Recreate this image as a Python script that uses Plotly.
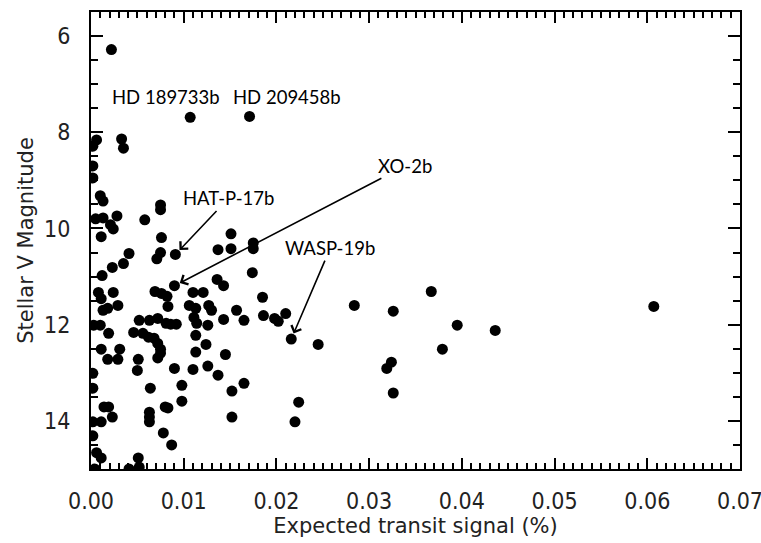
import plotly.graph_objects as go

# Expected transit signal (%) and stellar V magnitude
signal = [
    0.0022, 0.0107, 0.0171, 0.0033, 0.0035, 0.0006, 0.0002, 0.0002, 0.0002, 0.0010,
    0.0013, 0.0075, 0.0075, 0.0005, 0.0013, 0.0028, 0.0058, 0.0021, 0.0024, 0.0011,
    0.0076, 0.0041, 0.0075, 0.0071, 0.0091, 0.0035, 0.0023, 0.0012, 0.0151, 0.0137,
    0.0151, 0.0175, 0.0175, 0.0174, 0.0136, 0.0143, 0.0008, 0.0011, 0.0024, 0.0069,
    0.0076, 0.0082, 0.0090, 0.0110, 0.0121, 0.0185, 0.0083, 0.0013, 0.0018, 0.0029,
    0.0106, 0.0113, 0.0127, 0.0130, 0.0157, 0.0186, 0.0198, 0.0202, 0.0210, 0.0003,
    0.0010, 0.0019, 0.0052, 0.0063, 0.0072, 0.0081, 0.0086, 0.0092, 0.0046, 0.0056,
    0.0062, 0.0068, 0.0072, 0.0075, 0.0075, 0.0072, 0.0111, 0.0114, 0.0126, 0.0143,
    0.0165, 0.0113, 0.0124, 0.0113, 0.0145, 0.0011, 0.0031, 0.0018, 0.0029, 0.0051,
    0.0050, 0.0090, 0.0110, 0.0126, 0.0137, 0.0165, 0.0152, 0.0098, 0.0098, 0.0002,
    0.0002, 0.0064, 0.0014, 0.0019, 0.0023, 0.0002, 0.0011, 0.0063, 0.0063, 0.0063,
    0.0080, 0.0083, 0.0152, 0.0002, 0.0078, 0.0087, 0.0006, 0.0011, 0.0051, 0.0041,
    0.0052, 0.0004, 0.0216, 0.0245, 0.0284, 0.0326, 0.0367, 0.0395, 0.0379, 0.0324,
    0.0319, 0.0326, 0.0224, 0.0220, 0.0436, 0.0607,
]
vmag = [
    6.28, 7.69, 7.67, 8.14, 8.33, 8.16, 8.29, 8.70, 8.95, 9.32,
    9.43, 9.51, 9.61, 9.80, 9.78, 9.74, 9.82, 9.92, 10.01, 10.17,
    10.19, 10.52, 10.50, 10.63, 10.54, 10.73, 10.81, 10.98, 10.11, 10.44,
    10.42, 10.30, 10.42, 10.92, 11.06, 11.19, 11.33, 11.46, 11.33, 11.31,
    11.35, 11.41, 11.19, 11.33, 11.33, 11.43, 11.62, 11.70, 11.66, 11.60,
    11.60, 11.66, 11.60, 11.70, 11.70, 11.81, 11.87, 11.93, 11.77, 12.01,
    12.01, 12.18, 11.91, 11.91, 11.87, 11.97, 11.99, 11.99, 12.16, 12.18,
    12.26, 12.28, 12.39, 12.51, 12.59, 12.69, 11.85, 11.97, 12.01, 11.89,
    11.91, 12.22, 12.41, 12.57, 12.62, 12.51, 12.51, 12.72, 12.72, 12.72,
    12.95, 12.91, 12.93, 12.86, 13.05, 13.22, 13.38, 13.26, 13.59, 13.01,
    13.32, 13.32, 13.71, 13.71, 13.92, 14.02, 14.02, 13.82, 13.92, 14.02,
    13.71, 13.73, 13.92, 14.31, 14.25, 14.50, 14.66, 14.77, 14.77, 15.00,
    14.96, 15.00, 12.30, 12.41, 11.60, 11.72, 11.31, 12.01, 12.51, 12.78,
    12.91, 13.42, 13.61, 14.02, 12.12, 11.62,
]

# Labelled planets
arrow_names = ["HAT-P-17b", "XO-2b", "WASP-19b"]
arrow_x = [0.0091, 0.0090, 0.0216]
arrow_y = [10.54, 11.19, 12.30]
arrow_ax = [53, 231, 39]
arrow_ay = [-56, -120, -91]

plain_names = ["HD 189733b", "HD 209458b"]
plain_x = [0.0081, 0.0211]
plain_y = [7.27, 7.27]

# Axis ticks
x_major = [0.00, 0.01, 0.02, 0.03, 0.04, 0.05, 0.06, 0.07]
x_labels = ["0.00", "0.01", "0.02", "0.03", "0.04", "0.05", "0.06", "0.07"]
x_minor = [round(i * 0.001, 3) for i in range(71)]
y_major = [6, 8, 10, 12, 14]
y_minor = [5.5 + 0.5 * i for i in range(20)]

tick_font = dict(family="Liberation Sans Narrow, DejaVu Sans Condensed, sans-serif",
                 size=23, color="#222")
title_font = dict(family="DejaVu Sans, sans-serif", size=21, color="#222")
label_font = dict(family="Lato, Open Sans, sans-serif", size=18.5, color="black")

fig = go.Figure()
fig.add_trace(go.Scatter(
    x=signal, y=vmag, mode="markers",
    marker=dict(color="black", size=11, line=dict(width=0)),
    showlegend=False, hoverinfo="x+y",
))
# empty trace so that the overlaid minor-tick axis is drawn
fig.add_trace(go.Scatter(x=[], y=[], xaxis="x2", yaxis="y",
                         showlegend=False, hoverinfo="skip"))

annotations = []
for n, x, y, ax, ay in zip(arrow_names, arrow_x, arrow_y, arrow_ax, arrow_ay):
    annotations.append(dict(
        x=x, y=y, xref="x", yref="y", text=n, showarrow=True,
        ax=ax, ay=ay, arrowhead=4, arrowsize=1.3, arrowwidth=1.6,
        arrowcolor="black", standoff=6, font=label_font,
    ))
for n, x, y in zip(plain_names, plain_x, plain_y):
    annotations.append(dict(
        x=x, y=y, xref="x", yref="y", text=n, showarrow=False, font=label_font,
    ))

axis_common = dict(
    showline=True, linecolor="black", linewidth=2, mirror="ticks",
    ticks="inside", tickcolor="black", tickwidth=1.8, automargin=False,
    showgrid=False, zeroline=False, tickfont=tick_font,
)

fig.update_layout(
    width=761, height=543,
    margin=dict(l=91, r=21, t=12, b=74, autoexpand=False),
    paper_bgcolor="white", plot_bgcolor="white",
    annotations=annotations,
    xaxis=dict(
        range=[0, 0.07], tickmode="array", tickvals=x_major, ticktext=x_labels,
        ticklen=11, ticklabeloverflow="allow",
        ticklabelstandoff=10,
        title=dict(text="Expected transit signal (%)", font=title_font, standoff=2),
        **axis_common,
    ),
    xaxis2=dict(
        overlaying="x", anchor="y", side="bottom", matches="x",
        range=[0, 0.07], tickmode="array", tickvals=x_minor, ticklen=6,
        showticklabels=False, showline=True, linecolor="black", linewidth=2,
        mirror="ticks", ticks="inside", tickcolor="black", tickwidth=1.5,
        showgrid=False, zeroline=False, automargin=False,
    ),
    yaxis=dict(
        range=[15, 5.5], tickmode="array", tickvals=y_major, ticklen=12,
        minor=dict(ticks="inside", tickmode="array", tickvals=y_minor, ticklen=7,
                   tickcolor="black", tickwidth=1.5),
        ticklabelstandoff=14,
        title=dict(text="Stellar V Magnitude", font=title_font, standoff=5),
        **axis_common,
    ),
)

fig.write_html(
    "out.html",
    config={"displayModeBar": False},
    post_script="document.body.style.margin='0px';document.body.style.overflow='hidden';",
)
